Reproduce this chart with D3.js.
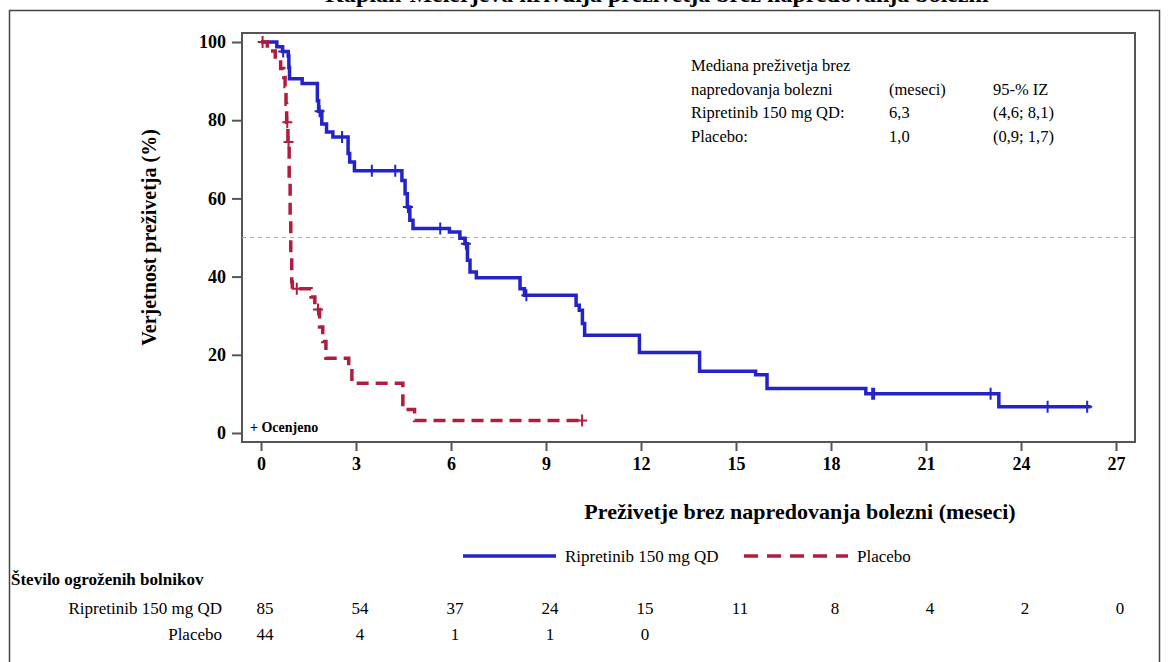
<!DOCTYPE html>
<html>
<head>
<meta charset="utf-8">
<script src="https://cdn.jsdelivr.net/npm/d3@7"></script>
</head>
<body style="margin:0;background:#fff">
<svg id="chart" width="1168" height="662"></svg>
<script>
// ---- data ----
const xTicks = [0, 3, 6, 9, 12, 15, 18, 21, 24, 27];
const yTicks = [0, 20, 40, 60, 80, 100];

// Ripretinib step curve (months, % surviving)
const ripTimes = [0, 0.5, 0.68, 0.86, 0.88, 0.9, 1.3, 1.78, 1.82, 1.92, 2.07, 2.27, 2.75, 2.8, 2.95,
                  4.45, 4.55, 4.62, 4.7, 4.8, 5.95, 6.28, 6.44, 6.52, 6.6, 6.8, 8.18, 8.32,
                  9.95, 10.05, 10.15, 10.22, 11.95, 13.85, 15.62, 15.98, 19.1, 23.3, 26.2];
const ripSurv  = [100, 98.8, 97.6, 96.4, 93.5, 90.6, 89.4, 85, 82.3, 79.0, 77.0, 75.7, 71.5, 69.3, 67.1,
                  64.6, 61.2, 57.8, 54.4, 52.3, 51.4, 49.8, 48.4, 44.2, 41.2, 39.7, 36.9, 35.2,
                  32.7, 31.4, 28.0, 25.0, 20.6, 15.8, 14.9, 11.4, 10.05, 6.7, 6.7];
const ripCensored = [0.7, 1.85, 2.56, 3.5, 4.24, 4.64, 5.66, 6.47, 8.38, 19.3, 19.36, 23.04, 24.84, 26.09];

// Placebo step curve
const plaTimes = [0, 0.2, 0.45, 0.62, 0.72, 0.76, 0.79, 0.81, 0.85, 0.89, 0.92, 0.94, 0.97, 0.99,
                  1.58, 1.7, 1.85, 1.95, 2.05, 2.77, 2.87, 4.48, 4.85, 10.2];
const plaSurv  = [100, 97.7, 95.5, 93.2, 90.9, 88.6, 84.1, 79.5, 74.4, 65, 55, 46, 38.6, 36.9,
                  34.8, 31.6, 27.1, 23.4, 19.1, 15.9, 12.7, 6.0, 3.2, 3.2];
const plaCensored = [0.05, 0.83, 0.87, 1.13, 1.8, 10.14];

// numbers at risk
const riskMonths = [0, 3, 6, 9, 12, 15, 18, 21, 24, 27];
const riskRip = [85, 54, 37, 24, 15, 11, 8, 4, 2, 0];
const riskPla = [44, 4, 1, 1, 0];

// median table
const medHeader1 = ["Mediana preživetja brez", "", ""];
const medHeader2 = ["napredovanja bolezni", "(meseci)", "95-% IZ"];
const medRip = ["Ripretinib 150 mg QD:", "6,3", "(4,6; 8,1)"];
const medPla = ["Placebo:", "1,0", "(0,9; 1,7)"];

const blue = "#2323c8";
const red = "#b01e3e";
const serif = "Liberation Serif";

const svg = d3.select("#chart")
              .attr("font-family", serif);

const x = d3.scaleLinear().domain([0, 27]).range([261, 1116]);
const y = d3.scaleLinear().domain([0, 100]).range([433, 42]);
const plotL = 242, plotR = 1135, plotT = 33, plotB = 442;

function label(px, py, str, size, bold) {
    const t = svg.append("text")
              .attr("x", px).attr("y", py)
              .attr("font-family", serif)
              .attr("font-size", size)
              .attr("fill", "#000")
              .text(str);
    if (bold) t.attr("font-weight", "bold");
    return t;
}

// outer frame
svg.append("rect")
   .attr("x", 9.5).attr("y", 10.5)
   .attr("width", 1150).attr("height", 700)
   .attr("fill", "none").attr("stroke", "#444").attr("stroke-width", 1.5);

// title (cut off at the top in the original)
label(657, 2, "Kaplan-Meierjeva krivulja preživetja brez napredovanja bolezni", 24, true)
   .attr("text-anchor", "middle");

// plot frame
svg.append("rect")
   .attr("x", plotL).attr("y", plotT)
   .attr("width", plotR - plotL).attr("height", plotB - plotT)
   .attr("fill", "none").attr("stroke", "#555").attr("stroke-width", 2);

// axes
const xAxis = svg.append("g")
   .attr("transform", "translate(0," + plotB + ")")
   .call(d3.axisBottom(x).tickValues(xTicks).tickSize(9).tickPadding(6));
const yAxis = svg.append("g")
   .attr("transform", "translate(" + plotL + ",0)")
   .call(d3.axisLeft(y).tickValues(yTicks).tickSize(10).tickPadding(6));

[xAxis, yAxis].forEach(g => {
    g.attr("font-family", serif).attr("font-size", 18);
    g.select(".domain").remove();
    g.selectAll(".tick line").attr("stroke", "#555").attr("stroke-width", 2);
    g.selectAll(".tick text")
     .attr("font-family", serif)
     .attr("font-weight", "bold").attr("font-size", 18).attr("fill", "#000");
});

// 50% reference
svg.append("line")
   .attr("x1", plotL).attr("x2", plotR)
   .attr("y1", y(50)).attr("y2", y(50))
   .attr("stroke", "#aaa").attr("stroke-width", 1.2)
   .attr("stroke-dasharray", "4,4");

// axis titles
label(0, 0, "Verjetnost preživetja (%)", 20, true)
   .attr("transform", "translate(156," + y(50) + ") rotate(-90)")
   .attr("text-anchor", "middle");

label(800, 519, "Preživetje brez napredovanja bolezni (meseci)", 22, true)
   .attr("text-anchor", "middle");

// curves
const stepLine = d3.line()
   .x(d => x(d[0]))
   .y(d => y(d[1]))
   .curve(d3.curveStepAfter);

function survAt(times, surv, t) {
    const i = d3.bisectRight(times, t) - 1;
    return surv[Math.max(0, i)];
}

function drawCurve(times, surv, censored, color, dash) {
    const pts = times.map((t, i) => [t, surv[i]]);
    svg.append("path")
       .datum(pts)
       .attr("d", stepLine)
       .attr("fill", "none")
       .attr("stroke", color)
       .attr("stroke-width", 3.5)
       .attr("stroke-dasharray", dash);

    svg.append("g")
       .selectAll("path")
       .data(censored)
       .join("path")
       .attr("transform", t => "translate(" + x(t) + "," + y(survAt(times, surv, t)) + ")")
       .attr("d", "M-5,0H5M0,-6V6")
       .attr("stroke", color)
       .attr("stroke-width", 2);
}

drawCurve(ripTimes, ripSurv, ripCensored, blue, null);
drawCurve(plaTimes, plaSurv, plaCensored, red, "12,7");

// censored note
label(250, 432, "+ Ocenjeno", 14, true);

// median table
const colX = [691, 889, 993];
[medHeader1, medHeader2, medRip, medPla].forEach((row, r) => {
    row.forEach((s, c) => {
        if (s) label(colX[c], 71 + r * 23.5, s, 16.5, false);
    });
});

// legend
const legY = 556;
svg.append("line")
   .attr("x1", 463).attr("x2", 556).attr("y1", legY).attr("y2", legY)
   .attr("stroke", blue).attr("stroke-width", 3.5);
label(565, legY + 6, "Ripretinib 150 mg QD", 17, false);
svg.append("line")
   .attr("x1", 744).attr("x2", 848).attr("y1", legY).attr("y2", legY)
   .attr("stroke", red).attr("stroke-width", 3.5)
   .attr("stroke-dasharray", "14,9");
label(857, legY + 6, "Placebo", 17, false);

// numbers at risk
label(11, 585, "Število ogroženih bolnikov", 17, true);

const riskRows = [["Ripretinib 150 mg QD", riskRip, 614], ["Placebo", riskPla, 640]];
riskRows.forEach(([name, vals, yy]) => {
    label(222, yy, name, 17, false).attr("text-anchor", "end");
    svg.append("g")
       .selectAll("text")
       .data(vals)
       .join("text")
       .attr("x", (d, i) => x(riskMonths[i]) + 4)
       .attr("y", yy)
       .attr("text-anchor", "middle")
       .attr("font-family", serif)
       .attr("font-size", 17)
       .text(d => d);
});
</script>
</body>
</html>
